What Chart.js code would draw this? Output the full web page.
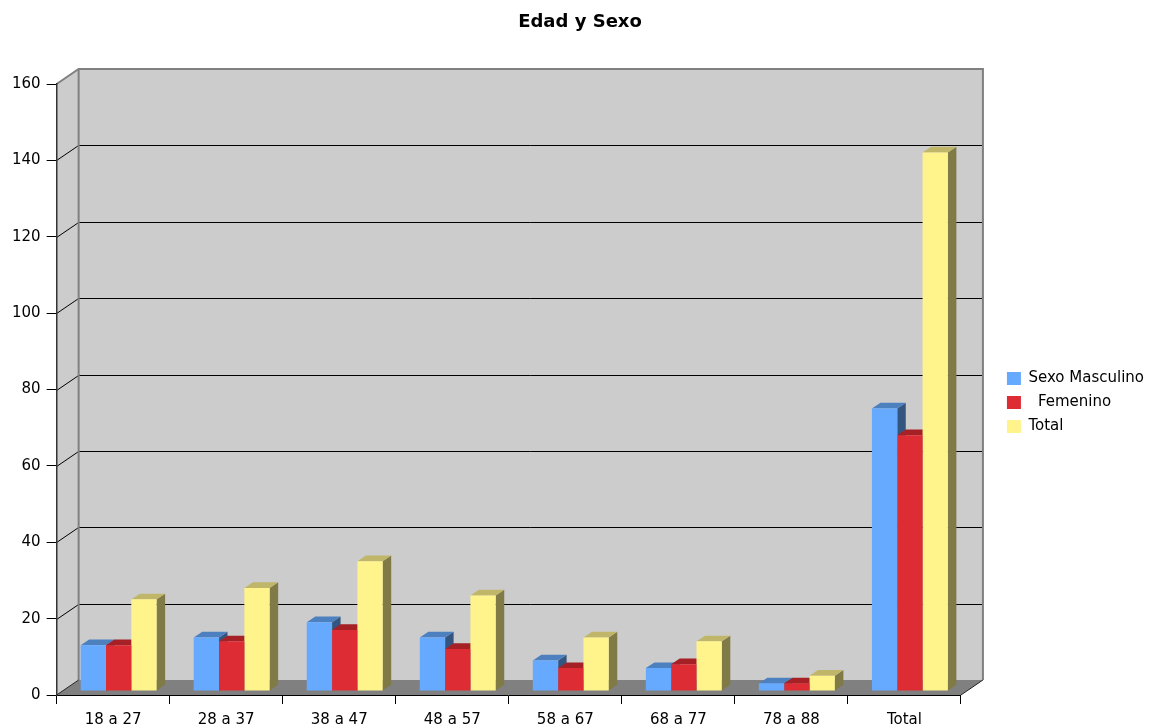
<!DOCTYPE html>
<html>
<head>
<meta charset="utf-8">
<script src="https://cdn.jsdelivr.net/npm/chart.js@4.4.1/dist/chart.umd.min.js"></script>
<style>
html,body{margin:0;padding:0;background:#ffffff;}
#wrap{width:1156px;height:727px;position:relative;}
</style>
</head>
<body>
<div id="wrap"><canvas id="c" width="1156" height="727"></canvas></div>
<script>
// ---- data ----
const categories = ['18 a 27', '28 a 37', '38 a 47', '48 a 57', '58 a 67', '68 a 77', '78 a 88', 'Total'];
const masculino = [12, 14, 18, 14, 8, 6, 2, 74];
const femenino = [12, 13, 16, 11, 6, 7, 2, 67];
const totales = [24, 27, 34, 25, 14, 13, 4, 141];
const seriesLabels = ['Sexo Masculino', '  Femenino', 'Total'];
const yMin = 0;
const yMax = 160;
const yStep = 20;
const titleText = 'Edad y Sexo';

// ---- styles ----
const FONT = "'DejaVu Sans', Verdana, sans-serif";
const seriesColors = ['#66aaff', '#dd2c33', '#fff38c'];
const WALL_DX = 22, WALL_DY = 15;
const BAR_DX = 8.5, BAR_DY = 5.7;
const BAR_SHIFT_X = 5.5, BAR_SHIFT_Y = -4;
const SPACER = 37;

function shade(hex, f) {
  const n = parseInt(hex.slice(1), 16);
  const r = Math.round(((n >> 16) & 255) * f);
  const g = Math.round(((n >> 8) & 255) * f);
  const b = Math.round((n & 255) * f);
  return 'rgb(' + r + ',' + g + ',' + b + ')';
}
function poly(ctx, pts) {
  ctx.beginPath();
  ctx.moveTo(pts[0][0], pts[0][1]);
  for (let i = 1; i < pts.length; i++) ctx.lineTo(pts[i][0], pts[i][1]);
  ctx.closePath();
  ctx.fill();
}
function line(ctx, pts, color, w) {
  ctx.beginPath();
  ctx.moveTo(pts[0][0], pts[0][1]);
  for (let i = 1; i < pts.length; i++) ctx.lineTo(pts[i][0], pts[i][1]);
  ctx.strokeStyle = color;
  ctx.lineWidth = w;
  ctx.stroke();
}

const walls = {
  id: 'walls',
  beforeDraw(chart) {
    const ctx = chart.ctx;
    const a = chart.chartArea;
    const ys = chart.scales.y;
    const L = a.left, R = a.right;
    const y0 = ys.getPixelForValue(yMin);
    const yT = ys.getPixelForValue(yMax);
    ctx.save();
    ctx.fillStyle = '#cccccc';
    ctx.fillRect(L + WALL_DX, yT - WALL_DY, R - L, y0 - yT);
    poly(ctx, [[L, yT], [L + WALL_DX, yT - WALL_DY], [L + WALL_DX, y0 - WALL_DY], [L, y0]]);
    ctx.fillStyle = '#808080';
    poly(ctx, [[L, y0], [L + WALL_DX, y0 - WALL_DY], [R + WALL_DX, y0 - WALL_DY], [R, y0]]);
    for (let v = yMin + yStep; v < yMax; v += yStep) {
      const yv = Math.round(ys.getPixelForValue(v)) + 0.5;
      line(ctx, [[L, yv], [L + WALL_DX, yv - WALL_DY], [R + WALL_DX, yv - WALL_DY]], '#000000', 1);
    }
    line(ctx, [[L, yT], [L + WALL_DX, yT - WALL_DY], [R + WALL_DX, yT - WALL_DY], [R + WALL_DX, y0 - WALL_DY]], '#808080', 2);
    line(ctx, [[L + WALL_DX, yT - WALL_DY], [L + WALL_DX, y0 - WALL_DY]], '#808080', 2);
    line(ctx, [[L, y0], [L + WALL_DX, y0 - WALL_DY]], '#222222', 1);
    line(ctx, [[R, y0], [R + WALL_DX, y0 - WALL_DY]], '#222222', 1);
    ctx.restore();
  }
};

const bars3d = {
  id: 'bars3d',
  beforeDatasetsDraw(chart) {
    const ctx = chart.ctx;
    ctx.save();
    ctx.translate(BAR_SHIFT_X, BAR_SHIFT_Y);
    const metas = chart.data.datasets.map((d, i) => chart.getDatasetMeta(i));
    for (let j = 0; j < categories.length; j++) {
      metas.forEach((m, i) => {
        const el = m.data[j];
        if (!el) return;
        const p = el.getProps(['x', 'y', 'base', 'width'], true);
        const l = p.x - p.width / 2, r = p.x + p.width / 2;
        const c = seriesColors[i];
        ctx.fillStyle = shade(c, 0.5);
        poly(ctx, [[r, p.y], [r + BAR_DX, p.y - BAR_DY], [r + BAR_DX, p.base - BAR_DY], [r, p.base]]);
        ctx.fillStyle = shade(c, 0.75);
        poly(ctx, [[l, p.y], [l + BAR_DX, p.y - BAR_DY], [r + BAR_DX, p.y - BAR_DY], [r, p.y]]);
      });
    }
  },
  afterDatasetsDraw(chart) {
    chart.ctx.restore();
  }
};

Chart.defaults.font.family = FONT;
Chart.defaults.color = '#000000';

new Chart(document.getElementById('c'), {
  type: 'bar',
  data: {
    labels: categories,
    datasets: [
      { label: seriesLabels[0], data: masculino, backgroundColor: seriesColors[0], borderWidth: 0 },
      { label: seriesLabels[1], data: femenino, backgroundColor: seriesColors[1], borderWidth: 0 },
      { label: seriesLabels[2], data: totales, backgroundColor: seriesColors[2], borderWidth: 0 }
    ]
  },
  options: {
    responsive: false,
    devicePixelRatio: 1,
    animation: false,
    categoryPercentage: 0.672,
    barPercentage: 1,
    layout: { padding: { left: 6, right: 2, top: 0, bottom: -9 } },
    plugins: {
      title: {
        display: true,
        text: titleText,
        color: '#000000',
        font: { family: FONT, size: 18, weight: 'bold' },
        padding: { top: 11.2, bottom: 51.2 }
      },
      legend: {
        position: 'right',
        fullSize: false,
        title: { display: true, text: ' ', font: { size: 15 }, padding: { top: 4, bottom: 4 } },
        labels: {
          boxWidth: 14,
          boxHeight: 13,
          padding: 9,
          color: '#000000',
          font: { family: FONT, size: 15 }
        }
      },
      tooltip: { enabled: false }
    },
    scales: {
      x: {
        type: 'category',
        offset: true,
        grid: { offset: true, drawOnChartArea: false, drawTicks: true, tickLength: 9, tickColor: '#000000' },
        border: { display: true, color: '#000000', width: 1 },
        ticks: { color: '#000000', font: { family: FONT, size: 15 }, padding: 7, maxRotation: 0, autoSkip: false }
      },
      y: {
        min: yMin,
        max: yMax,
        grid: { drawOnChartArea: false, drawTicks: true, tickLength: 10, tickColor: '#000000' },
        border: { display: true, color: '#333333', width: 1.5 },
        ticks: { stepSize: yStep, color: '#000000', font: { family: FONT, size: 15 }, padding: 6 }
      },
      spacer: {
        type: 'linear',
        position: 'right',
        display: true,
        grid: { display: false },
        border: { display: false },
        ticks: { display: false },
        afterFit(s) { s.width = SPACER; }
      }
    }
  },
  plugins: [walls, bars3d]
});
</script>
</body>
</html>
